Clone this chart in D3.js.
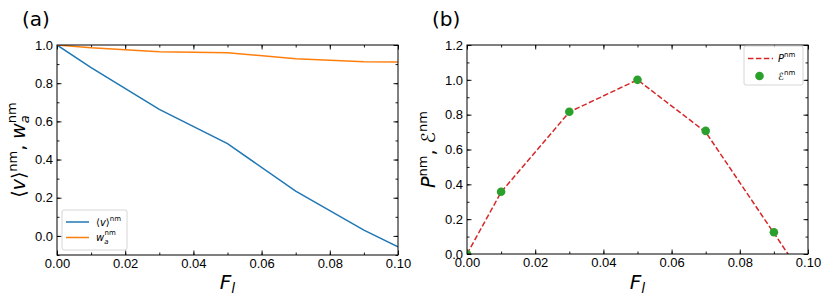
<!DOCTYPE html>
<html>
<head>
<meta charset="utf-8">
<script src="https://cdn.jsdelivr.net/npm/d3@7"></script>
<style>
  body { margin: 0; background: #fff; }
  svg { font-family: "DejaVu Sans", sans-serif; }
</style>
</head>
<body>
<div id="chart"></div>
<script>
// Panel (a): normalised velocity and width vs F_l
const fA = [0, 0.01, 0.03, 0.05, 0.07, 0.09, 0.1];
const velocityNm = [1.0, 0.882, 0.663, 0.483, 0.235, 0.03, -0.057];
const widthNm = [1.0, 0.985, 0.965, 0.96, 0.928, 0.912, 0.911];

// Panel (b): normalised power (dashed) and efficiency (dots)
const fPower = [0, 0.01, 0.03, 0.05, 0.07, 0.09, 0.1];
const powerNm = [0, 0.355, 0.815, 1.0, 0.70, 0.12, -0.17];
const fEff = [0, 0.01, 0.03, 0.05, 0.07, 0.09];
const effNm = [0, 0.357, 0.817, 1.0, 0.707, 0.125];

const xTicks = [0, 0.02, 0.04, 0.06, 0.08, 0.1];

const width = 830, height = 301;
const svg = d3.select('#chart').append('svg')
  .attr('width', width)
  .attr('height', height);

const fmtX = d3.format('.2f');
const fmtY = d3.format('.1f');

function drawPanel(opt) {
  const w = opt.right - opt.left;
  const h = opt.bottom - opt.top;
  const g = svg.append('g').attr('transform', `translate(${opt.left},${opt.top})`);

  const x = d3.scaleLinear().domain([0, 0.1]).range([0, w]);
  const y = d3.scaleLinear().domain(opt.yDomain).range([h, 0]);

  const clipId = 'clip-' + opt.id;
  g.append('clipPath').attr('id', clipId)
    .append('rect').attr('width', w).attr('height', h);

  const xMinor = d3.range(0, 0.1001, 0.01);
  const yMinor = d3.range(opt.yDomain[0], opt.yDomain[1] + 0.0001, 0.1);

  // major + minor ticks on all four sides, pointing inward
  const addAxis = (axis, tr) => {
    const a = g.append('g').attr('transform', tr).call(axis);
    a.select('.domain').remove();
    a.selectAll('line').attr('stroke', '#000').attr('stroke-width', 0.9);
    a.selectAll('text').attr('fill', '#000').attr('font-size', 13);
    return a;
  };
  addAxis(d3.axisBottom(x).tickValues(xMinor).tickSize(-2.5).tickFormat(''), `translate(0,${h})`);
  addAxis(d3.axisTop(x).tickValues(xMinor).tickSize(-2.5).tickFormat(''), 'translate(0,0)');
  addAxis(d3.axisLeft(y).tickValues(yMinor).tickSize(-2.5).tickFormat(''), 'translate(0,0)');
  addAxis(d3.axisRight(y).tickValues(yMinor).tickSize(-2.5).tickFormat(''), `translate(${w},0)`);

  addAxis(d3.axisBottom(x).tickValues(xTicks).tickSize(-4.5).tickPadding(4).tickFormat(fmtX), `translate(0,${h})`);
  addAxis(d3.axisTop(x).tickValues(xTicks).tickSize(-4.5).tickFormat(''), 'translate(0,0)');
  addAxis(d3.axisLeft(y).tickValues(opt.yTicks).tickSize(-4.5).tickPadding(4).tickFormat(fmtY), 'translate(0,0)');
  addAxis(d3.axisRight(y).tickValues(opt.yTicks).tickSize(-4.5).tickFormat(''), `translate(${w},0)`);

  const plot = g.append('g').attr('clip-path', `url(#${clipId})`);
  opt.draw(plot, x, y);

  // frame
  g.append('rect')
    .attr('width', w).attr('height', h)
    .attr('fill', 'none').attr('stroke', '#000').attr('stroke-width', 1);

  // panel label
  svg.append('text')
    .attr('x', opt.left - 35).attr('y', 26)
    .attr('font-size', 20)
    .text(opt.label);

  // x label
  const xl = svg.append('text')
    .attr('x', opt.left + w / 2).attr('y', 289)
    .attr('text-anchor', 'middle')
    .attr('font-size', 20);
  xl.append('tspan').attr('font-style', 'italic').text('F');
  xl.append('tspan').attr('font-style', 'italic').attr('font-size', 14).attr('dy', 4).text('l');

  // y label
  const yl = svg.append('text')
    .attr('transform', `translate(${opt.left - 32},${opt.top + h / 2}) rotate(-90)`)
    .attr('text-anchor', 'middle')
    .attr('font-size', 19);
  opt.yLabel(yl);

  // legend
  opt.legend(g, w, h);
}

const lineA = (x, y, ys) => d3.line()
  .x((d, i) => x(fA[i]))
  .y(d => y(d))(ys);

drawPanel({
  id: 'a', label: '(a)',
  left: 57, right: 398, top: 45, bottom: 255,
  yDomain: [-0.1, 1.0],
  yTicks: [0, 0.2, 0.4, 0.6, 0.8, 1.0],
  draw: (plot, x, y) => {
    plot.append('path').attr('d', lineA(x, y, velocityNm))
      .attr('fill', 'none').attr('stroke', '#1f77b4').attr('stroke-width', 1.5);
    plot.append('path').attr('d', lineA(x, y, widthNm))
      .attr('fill', 'none').attr('stroke', '#ff7f0e').attr('stroke-width', 1.5);
  },
  yLabel: (t) => {
    t.append('tspan').text('⟨');
    t.append('tspan').attr('font-style', 'italic').text('v');
    t.append('tspan').text('⟩');
    t.append('tspan').attr('font-size', 13).attr('dy', -8).text('nm');
    t.append('tspan').attr('dy', 8).text(', ');
    t.append('tspan').attr('font-style', 'italic').text('w');
    t.append('tspan').attr('font-style', 'italic').attr('font-size', 13).attr('dy', 4).text('a');
    t.append('tspan').attr('font-size', 13).attr('dx', -8).attr('dy', -13).text('nm');
  },
  legend: (g, w, h) => {
    const lg = g.append('g').attr('transform', 'translate(5,165)');
    lg.append('rect').attr('width', 65).attr('height', 40).attr('rx', 2)
      .attr('fill', '#fff').attr('fill-opacity', 0.8)
      .attr('stroke', '#ccc').attr('stroke-width', 0.8);
    [['#1f77b4', 12], ['#ff7f0e', 27.5]].forEach(([c, yy]) => {
      lg.append('line').attr('x1', 4).attr('x2', 27).attr('y1', yy).attr('y2', yy)
        .attr('stroke', c).attr('stroke-width', 1.5);
    });
    const t1 = lg.append('text').attr('x', 34).attr('y', 16).attr('font-size', 10);
    t1.append('tspan').text('⟨');
    t1.append('tspan').attr('font-style', 'italic').text('v');
    t1.append('tspan').text('⟩');
    t1.append('tspan').attr('font-size', 7).attr('dy', -5).text('nm');
    const t2 = lg.append('text').attr('x', 34).attr('y', 31).attr('font-size', 10);
    t2.append('tspan').attr('font-style', 'italic').text('w');
    t2.append('tspan').attr('font-style', 'italic').attr('font-size', 7).attr('dy', 3).text('a');
    t2.append('tspan').attr('font-size', 7).attr('dx', -4).attr('dy', -9).text('nm');
  }
});

drawPanel({
  id: 'b', label: '(b)',
  left: 467, right: 808, top: 45, bottom: 254,
  yDomain: [0, 1.2],
  yTicks: [0, 0.2, 0.4, 0.6, 0.8, 1.0, 1.2],
  draw: (plot, x, y) => {
    const line = d3.line().x((d, i) => x(fPower[i])).y(d => y(d));
    plot.append('path').attr('d', line(powerNm))
      .attr('fill', 'none').attr('stroke', '#d62728').attr('stroke-width', 1.5)
      .attr('stroke-dasharray', '5.5,2.4');
    plot.selectAll('circle').data(effNm).join('circle')
      .attr('cx', (d, i) => x(fEff[i]))
      .attr('cy', d => y(d))
      .attr('r', 4.3)
      .attr('fill', '#2ca02c');
  },
  yLabel: (t) => {
    t.append('tspan').attr('font-style', 'italic').text('P');
    t.append('tspan').attr('font-size', 13).attr('dy', -8).text('nm');
    t.append('tspan').attr('dy', 8).text(', ');
    t.append('tspan').attr('font-style', 'italic').text('ℰ');
    t.append('tspan').attr('font-size', 13).attr('dy', -8).text('nm');
  },
  legend: (g, w, h) => {
    const lg = g.append('g').attr('transform', `translate(${w - 64},1)`);
    lg.append('rect').attr('width', 59).attr('height', 39).attr('rx', 2)
      .attr('fill', '#fff').attr('fill-opacity', 0.8)
      .attr('stroke', '#ccc').attr('stroke-width', 0.8);
    lg.append('line').attr('x1', 4).attr('x2', 29).attr('y1', 12.5).attr('y2', 12.5)
      .attr('stroke', '#d62728').attr('stroke-width', 1.5).attr('stroke-dasharray', '5.5,2.4');
    lg.append('circle').attr('cx', 15.5).attr('cy', 30).attr('r', 4.3).attr('fill', '#2ca02c');
    const t1 = lg.append('text').attr('x', 34).attr('y', 16).attr('font-size', 10);
    t1.append('tspan').attr('font-style', 'italic').text('P');
    t1.append('tspan').attr('font-size', 7).attr('dy', -5).text('nm');
    const t2 = lg.append('text').attr('x', 34).attr('y', 34).attr('font-size', 10);
    t2.append('tspan').attr('font-style', 'italic').text('ℰ');
    t2.append('tspan').attr('font-size', 7).attr('dy', -5).text('nm');
  }
});
</script>
</body>
</html>
